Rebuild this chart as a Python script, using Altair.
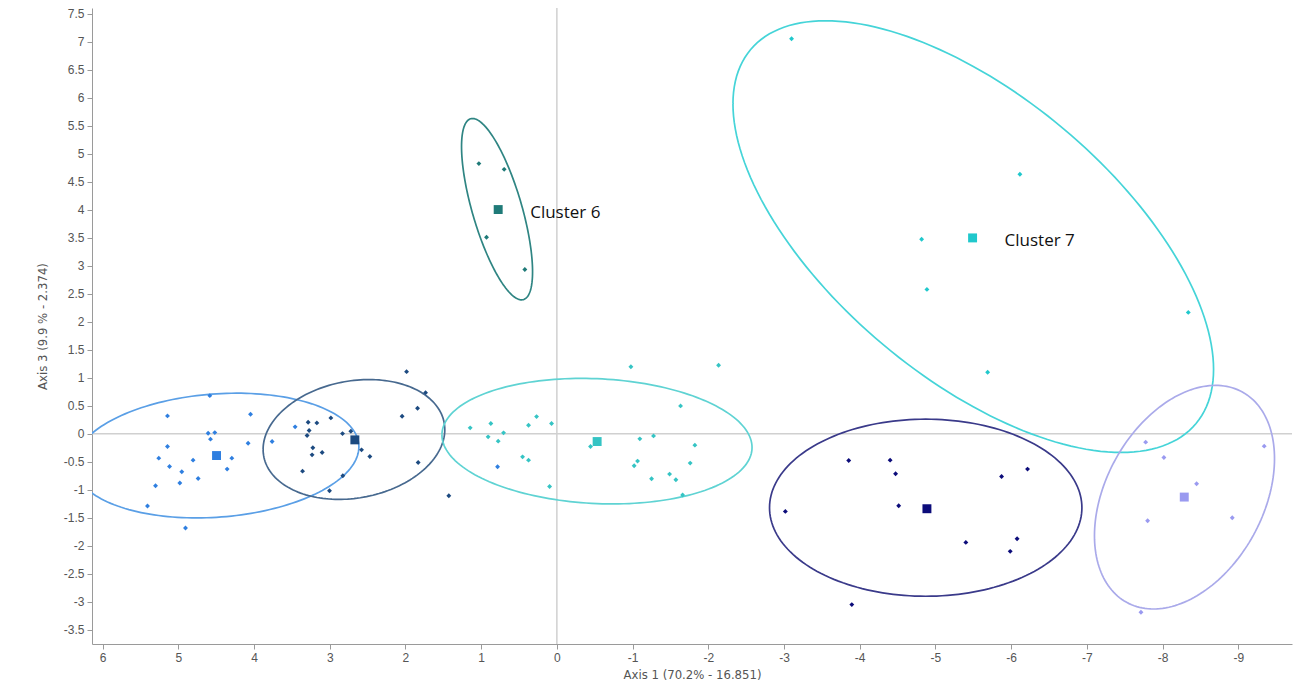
import numpy as np
import pandas as pd
import altair as alt

# ---------------- data ----------------
c1_x = [4.584, 5.143, 4.046, 4.606, 4.518, 4.575, 4.078, 3.761, 5.143, 5.258, 4.805,
        4.293, 5.116, 4.954, 4.355, 4.738, 4.980, 5.301, 5.407, 4.905, 3.457, 0.783]
c1_y = [0.682, 0.321, 0.351, 0.012, 0.023, -0.094, -0.168, -0.137, -0.226, -0.433, -0.469,
        -0.433, -0.583, -0.677, -0.629, -0.796, -0.878, -0.926, -1.288, -1.680, 0.125, -0.588]

c2_x = [1.985, 1.734, 2.044, 1.840, 2.985, 3.285, 3.170, 3.272, 3.299, 2.831, 2.721,
        3.223, 3.100, 3.233, 2.580, 2.470, 1.832, 3.359, 2.827, 3.003, 1.427]
c2_y = [1.110, 0.736, 0.315, 0.458, 0.285, 0.208, 0.196, 0.059, -0.030, 0.005, 0.048,
        -0.249, -0.333, -0.374, -0.285, -0.404, -0.511, -0.665, -0.748, -1.016, -1.105]

c3_x = [-0.978, -2.136, -1.634, 1.145, 0.872, 0.268, 0.374, 0.070, 0.704, 0.908, 0.775,
        -1.096, -1.277, -1.823, -0.445, 0.453, 0.374, -1.066, -1.021, -1.761, -1.489,
        -1.251, -1.572, 0.096, -1.661]
c3_y = [1.199, 1.224, 0.499, 0.107, 0.184, 0.308, 0.155, 0.184, 0.018, -0.053, -0.130,
        -0.089, -0.036, -0.201, -0.226, -0.410, -0.469, -0.486, -0.570, -0.522, -0.718,
        -0.802, -0.820, -0.939, -1.092]

c6_x = [1.030, 0.696, 0.929, 0.423]
c6_y = [4.823, 4.721, 3.510, 2.934]

c7_x = [-3.100, -6.116, -4.818, -4.888, -8.340, -5.690]
c7_y = [7.050, 4.632, 3.474, 2.578, 2.168, 1.099]

c8_x = [-3.855, -4.402, -4.474, -5.874, -6.217, -3.018, -4.515, -5.402, -6.079, -5.988, -3.896]
c8_y = [-0.476, -0.469, -0.713, -0.761, -0.629, -1.384, -1.283, -1.937, -1.871, -2.097, -3.047]

c9_x = [-7.777, -8.018, -9.343, -8.450, -7.803, -8.921, -7.715]
c9_y = [-0.148, -0.422, -0.219, -0.891, -1.550, -1.497, -3.184]

cluster_ids = ["c1", "c2", "c3", "c6", "c7", "c8", "c9"]
cluster_pts = [(c1_x, c1_y), (c2_x, c2_y), (c3_x, c3_y), (c6_x, c6_y),
               (c7_x, c7_y), (c8_x, c8_y), (c9_x, c9_y)]
point_colors = ["#2f7fe0", "#1c4a80", "#35c4c4", "#1f7a78", "#20c8cc", "#0c0c7a", "#9a9af0"]
ellipse_colors = ["#5a9fe6", "#47698f", "#5fd3d3", "#2f8583", "#45d4d8", "#3a3a8a", "#aaaaea"]

cent_x = [4.495, 2.668, -0.532, 0.775, -5.491, -4.888, -8.287]
cent_y = [-0.387, -0.107, -0.137, 4.003, 3.497, -1.336, -1.128]

# confidence ellipses: centre, half extents along x / y, correlation
ell_cx = [4.495, 2.680, -0.530, 0.790, -5.500, -4.872, -8.290]
ell_cy = [-0.387, -0.100, -0.130, 4.010, 3.520, -1.318, -1.130]
ell_rx = [1.880, 1.200, 2.048, 0.469, 3.174, 2.063, 1.189]
ell_ry = [1.113, 1.069, 1.120, 1.618, 3.852, 1.580, 1.995]
ell_rho = [-0.14, -0.165, 0.10, 0.69, 0.615, 0.0, -0.345]

label_ids = ["c6", "c7"]
label_text = ["Cluster 6", "Cluster 7"]

x_ticks = list(range(-9, 7))
y_ticks = [v / 2 for v in range(-7, 16)]

# ---------------- tables ----------------
pts = pd.concat([pd.DataFrame({"x": px, "y": py, "col": c})
                 for (px, py), c in zip(cluster_pts, point_colors)], ignore_index=True)
cents = pd.DataFrame({"x": cent_x, "y": cent_y, "col": point_colors, "id": cluster_ids})

t = np.linspace(0, 2 * np.pi, 181)
ell_rows = []
for i, cid in enumerate(cluster_ids):
    r = ell_rho[i]
    ex = ell_cx[i] + ell_rx[i] * np.cos(t)
    ey = ell_cy[i] + ell_ry[i] * (r * np.cos(t) + np.sqrt(1 - r * r) * np.sin(t))
    ell_rows.append(pd.DataFrame({"x": ex, "y": ey, "k": np.arange(len(t)),
                                  "id": cid, "col": ellipse_colors[i]}))
ells = pd.concat(ell_rows, ignore_index=True)

labs = cents[cents["id"].isin(label_ids)].copy()
labs["text"] = [label_text[label_ids.index(i)] for i in labs["id"]]

# ---------------- chart ----------------
label_font = "Liberation Sans, Arial, sans-serif"
title_font = "Liberation Sans Narrow, DejaVu Sans Condensed, Liberation Sans, Arial, sans-serif"
xs = alt.Scale(domain=[6.14, -9.71], nice=False, zero=False)
ys = alt.Scale(domain=[-3.75, 7.6], nice=False, zero=False)
xaxis = alt.Axis(values=x_ticks, title="Axis 1 (70.2% - 16.851)", labelExpr="'' + datum.value",
                 grid=False, tickSize=5, labelPadding=3, titlePadding=5)
yaxis = alt.Axis(values=y_ticks, title="Axis 3 (9.9 % - 2.374)", labelExpr="'' + datum.value",
                 grid=False, tickSize=5, labelPadding=3, titlePadding=14)
X = alt.X("x:Q", scale=xs, axis=xaxis)
Y = alt.Y("y:Q", scale=ys, axis=yaxis)

vrule = alt.Chart(pd.DataFrame({"x": [0.0]})).mark_rule(color="#d0d0d0", strokeWidth=1.5).encode(x=X)
hrule = alt.Chart(pd.DataFrame({"y": [0.0]})).mark_rule(color="#d0d0d0", strokeWidth=1.5).encode(y=Y)

ell_layer = alt.Chart(ells).mark_line(strokeWidth=1.7, clip=True).encode(
    x=X, y=Y, order="k:Q", detail="id:N", color=alt.Color("col:N", scale=None))

pt_layer = alt.Chart(pts).mark_point(shape="diamond", filled=True, size=24, opacity=1).encode(
    x=X, y=Y, color=alt.Color("col:N", scale=None))

cent_layer = alt.Chart(cents).mark_point(shape="square", filled=True, size=80, opacity=1).encode(
    x=X, y=Y, color=alt.Color("col:N", scale=None))

lab_layer = alt.Chart(labs).mark_text(align="left", baseline="middle", dx=32, dy=3,
                                      fontSize=17, font="Open Sans", color="#111111").encode(
    x=X, y=Y, text="text:N")

chart = alt.layer(vrule, hrule, ell_layer, pt_layer, cent_layer, lab_layer).properties(
    width=1200, height=636,
    autosize=alt.AutoSizeParams(type="none"),
    padding={"left": 84, "top": 0, "right": 2, "bottom": 40},
).configure_view(stroke=None).configure_axis(
    domainColor="#9a9a9a", tickColor="#9a9a9a", labelColor="#555555", titleColor="#555555",
    labelFont=label_font, titleFont=title_font, labelFontSize=12, titleFontSize=13,
    titleFontWeight="normal",
)

chart.save("out.html", embed_options={"renderer": "svg", "actions": False})
